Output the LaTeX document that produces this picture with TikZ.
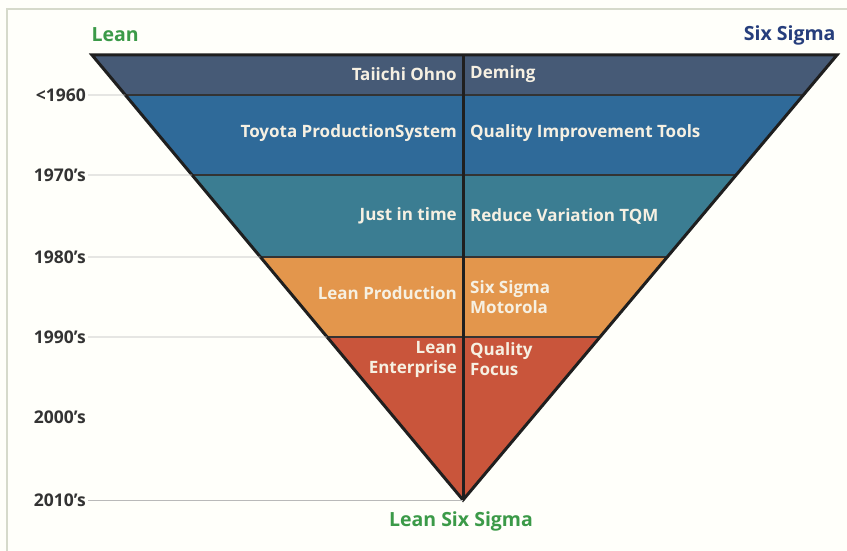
\documentclass[tikz,border=0pt]{standalone}
\usepackage{fontspec}
\setmainfont{Open Sans}
\usetikzlibrary{calc}

\definecolor{bandA}{HTML}{465A76}
\definecolor{bandB}{HTML}{2F6A99}
\definecolor{bandC}{HTML}{3B7D92}
\definecolor{bandD}{HTML}{E3964C}
\definecolor{bandE}{HTML}{C9553B}
\definecolor{leangreen}{HTML}{3B9A48}
\definecolor{sigmablue}{HTML}{263E7C}
\definecolor{cream}{HTML}{F6F0E2}
\definecolor{framegray}{HTML}{D6DACB}

\tikzset{
  outline/.style={line width=3pt, black!88, line join=miter},
  divider/.style={line width=1.6pt, black!80},
  gridline/.style={line width=0.8pt, gray!55},
  year/.style={anchor=east, font=\fontsize{17.5}{20}\selectfont\bfseries, text=black!80, inner sep=2pt},
  lefttext/.style={anchor=east, align=right, font=\fontsize{17}{20}\selectfont\bfseries, text=cream, inner sep=0pt},
  righttext/.style={anchor=west, align=left, font=\fontsize{17}{20}\selectfont\bfseries, text=cream, inner sep=0pt},
  heading/.style={font=\fontsize{19.5}{22}\selectfont\bfseries}
}

\begin{document}
\begin{tikzpicture}[x=1pt, y=-1pt]
  \useasboundingbox (0,0) rectangle (847,551);
  \fill[white!98!yellow] (0,0) rectangle (847,551);
  % frame
  \draw[framegray, line width=1.5pt] (7,551) -- (7,9) -- (847,9);

  % corners of the funnel
  \coordinate (L) at (92,55);
  \coordinate (R) at (837,55);
  \coordinate (A) at (463,500);
  \coordinate (M) at (463,55);

  % band edges on both sides
  \foreach \i/\t in {1/0.0899,2/0.2697,3/0.4539,4/0.6337}{
    \coordinate (l\i) at ($(L)!\t!(A)$);
    \coordinate (r\i) at ($(R)!\t!(A)$);
  }

  % bands
  \fill[bandA] (L) -- (R) -- (r1) -- (l1) -- cycle;
  \fill[bandB] (l1) -- (r1) -- (r2) -- (l2) -- cycle;
  \fill[bandC] (l2) -- (r2) -- (r3) -- (l3) -- cycle;
  \fill[bandD] (l3) -- (r3) -- (r4) -- (l4) -- cycle;
  \fill[bandE] (l4) -- (r4) -- (A) -- cycle;
  \foreach \i in {1,...,4}
  \draw[divider] (l\i) -- (r\i);
  \draw[outline] (M) -- (A);
  \draw[outline] (L) -- (R) -- (A) -- cycle;

  % years
  \node[year] (y60) at (88,95) {<1960};
  \node[year] (y70) at (88,175) {1970's};
  \node[year] (y80) at (88,257) {1980's};
  \node[year] (y90) at (88,337) {1990's};
  \node[year] (y00) at (88,417) {2000's};
  \node[year] (y10) at (88,500) {2010's};
  \draw[gridline] (y60.east) -- (l1);
  \draw[gridline] (y70.east) -- (l2);
  \draw[gridline] (y80.east) -- (l3);
  \draw[gridline] (y90.east) -- (l4);
  \draw[gridline] (y10.east) -- (A);

  % band texts
  \node[lefttext] (ohno) at (457,74) {Taiichi Ohno};
  \node[righttext] (deming) at (470,74) {Deming};
  \node[lefttext] (tps) at (457,133) {Toyota ProductionSystem};
  \node[righttext] (qit) at (470,133) {Quality Improvement Tools};
  \node[lefttext] (jit) at (457,216) {Just in time};
  \node[righttext] (tqm) at (470,216) {Reduce Variation TQM};
  \node[lefttext] (leanprod) at (457,293) {Lean Production};
  \node[righttext] (motorola) at (470,297) {Six Sigma\\Motorola};
  \node[lefttext] (leanent) at (457,359) {Lean\\Enterprise};
  \node[righttext] (focus) at (470,359) {Quality\\Focus};

  % headings
  \node[heading, text=leangreen, anchor=west] (lean) at (88,35) {Lean};
  \node[heading, text=sigmablue, anchor=east] (sixsigma) at (839,35) {Six Sigma};
  \node[heading, text=leangreen] (lss) at (461,521) {Lean Six Sigma};
\end{tikzpicture}
\end{document}
